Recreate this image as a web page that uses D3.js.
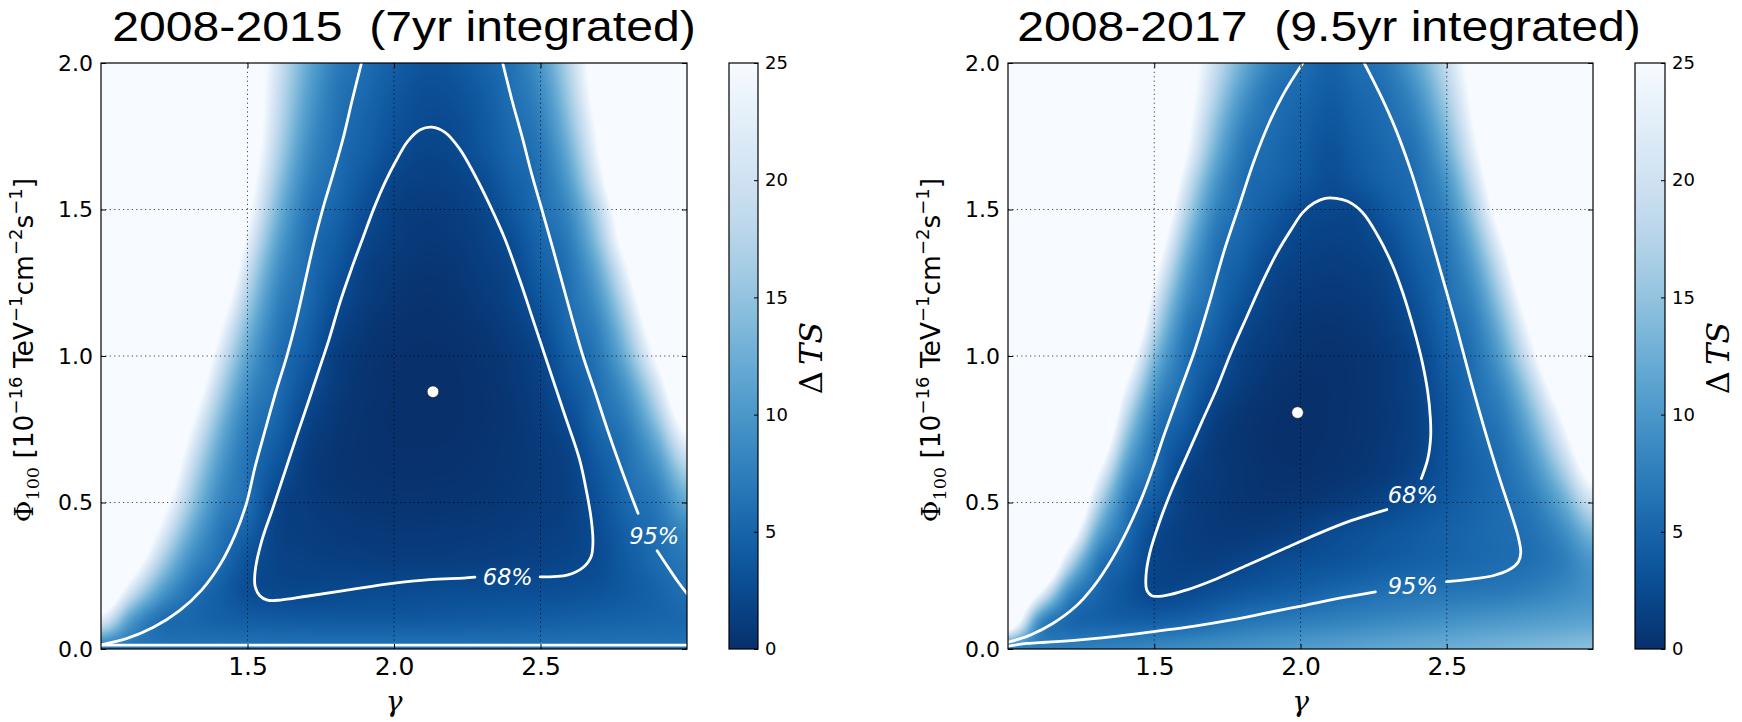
<!DOCTYPE html>
<html><head><meta charset="utf-8">
<script src="https://cdn.jsdelivr.net/npm/d3@7"></script>
<style>body{margin:0;background:#fff} svg{display:block}</style>
</head><body>
<svg id="chart" width="1742" height="722"></svg>
<script>
// ---------------- data ----------------
const titles = ["2008-2015  (7yr integrated)", "2008-2017  (9.5yr integrated)"];
const xTicks = [1.5, 2.0, 2.5];
const yTicks = [0.0, 0.5, 1.0, 1.5, 2.0];
const cbTicks = [0, 5, 10, 15, 20, 25];
const gammaGrid = [1.0,1.1,1.2,1.3,1.4,1.5,1.6,1.7,1.8,1.9,2.0,2.1,2.2,2.3,2.4,2.5,2.6,2.7,2.8,2.9,3.0];
const phiGrid = [0.0,0.1,0.2,0.3,0.4,0.5,0.6,0.7,0.8,0.9,1.0,1.1,1.2,1.3,1.4,1.5,1.6,1.7,1.8,1.9,2.0];

// Delta TS, rows = phiGrid, cols = gammaGrid  (2008-2015)
const tsLeft = [
[6.4,6.4,6.4,6.4,6.4,6.4,6.4,6.4,6.4,6.4,6.4,6.4,6.4,6.4,6.4,6.4,6.4,6.4,6.4,6.4,6.4],
[22.0,10.8,6.1,5.3,4.7,4.3,4.1,4.0,3.9,3.9,3.9,3.9,4.0,4.1,4.2,4.3,4.5,4.7,4.9,5.1,5.3],
[36.0,21.0,11.2,6.5,4.6,2.8,2.2,2.15,2.25,2.4,2.5,2.6,2.7,2.75,2.8,2.85,2.95,3.3,4.0,4.9,6.1],
[45,31.0,17.5,9.2,6.0,3.3,1.9,1.6,1.45,1.35,1.3,1.3,1.35,1.45,1.6,1.8,2.05,2.65,4.2,5.7,6.8],
[45,38.9,23.5,12.6,7.0,4.6,1.8,1.3,1.0,0.85,0.8,0.8,0.85,0.95,1.1,1.35,1.7,2.75,4.7,6.15,8.3],
[45,45,29.5,16.3,8.5,5.9,2.0,1.2,0.75,0.55,0.45,0.45,0.5,0.6,0.8,1.1,1.6,3.2,5.5,7.1,11.7],
[45,45,34.7,19.6,10.1,6.1,3.2,1.1,0.5,0.3,0.2,0.2,0.25,0.4,0.65,1.0,1.7,3.8,6.1,9.0,16.2],
[45,45,40.6,23.5,12.2,6.6,4.25,1.5,0.6,0.25,0.1,0.08,0.12,0.3,0.6,1.1,2.0,4.7,6.7,12.0,22.3],
[45,45,45,28.1,14.9,7.6,5.2,2.2,0.8,0.3,0.05,0.02,0.05,0.2,0.6,1.3,2.8,5.7,8.2,16.1,29.7],
[45,45,45,33.2,18.3,9.2,6.0,3.2,1.2,0.4,0.1,0.0,0.05,0.25,0.7,1.6,3.8,6.1,10.4,20.7,37.0],
[45,45,45,38.9,22.1,11.3,6.3,4.1,1.4,0.5,0.15,0.05,0.1,0.35,0.9,2.0,4.7,7.0,13.6,26.6,45],
[45,45,45,45,26.6,13.8,7.1,4.9,2.1,0.8,0.3,0.15,0.25,0.6,1.3,2.8,5.6,8.2,16.8,31.7,45],
[45,45,45,45,31.6,16.8,8.2,5.6,2.9,1.3,0.6,0.3,0.45,1.0,1.8,3.7,6.05,10.1,20.6,37.6,45],
[45,45,45,45,37.0,19.9,9.7,6.0,3.7,1.6,0.9,0.55,0.7,1.3,2.15,4.5,6.5,12.4,25.0,44,45],
[45,45,45,45,41.9,23.4,11.6,6.3,4.4,2.2,1.3,0.85,1.0,1.6,2.8,5.2,7.5,15.4,30.1,45,45],
[45,45,45,45,45,26.6,13.6,7.0,5.1,2.9,1.5,1.1,1.3,2.0,3.7,5.9,8.9,18.0,33.4,45,45],
[45,45,45,45,45,28.8,15.7,8.1,5.7,3.7,2.0,1.55,1.7,2.6,4.5,6.2,10.9,22.0,39.6,45,45],
[45,45,45,45,45,31.0,17.6,9.3,6.05,4.5,2.8,1.95,2.2,3.5,5.2,6.8,12.8,25.0,43.2,45,45],
[45,45,45,45,45,32.1,19.0,10.4,6.4,4.9,3.4,2.5,2.6,3.8,5.6,7.7,14.7,27.2,45,45,45],
[45,45,45,45,45,32.4,19.9,11.4,6.8,5.4,3.9,2.9,3.1,4.2,6.0,8.7,16.5,29.4,45,45,45],
[45,45,45,45,45,32.5,20.7,12.3,7.4,5.8,4.4,3.4,3.6,4.8,6.2,9.8,17.9,30.6,45,45,45]
];

// Delta TS, rows = phiGrid, cols = gammaGrid  (2008-2017)
const tsRight = [
[7.0,7.2,7.4,7.7,8.0,8.4,8.8,9.2,9.6,10.0,10.4,10.8,11.2,11.6,12.0,12.4,12.8,13.2,13.6,14.0,14.4],
[33.9,10.75,5.6,4.8,4.4,4.35,4.7,5.4,6.3,6.8,7.2,7.6,8.0,8.4,8.8,9.2,9.6,10.0,10.4,10.8,11.2],
[45,27.3,10.2,5.5,3.6,2.15,2.25,2.8,3.4,3.9,4.4,5.0,5.5,6.05,6.3,6.5,6.7,7.0,7.6,8.5,9.5],
[45,45,20.7,7.6,4.6,2.1,1.5,1.45,1.9,2.5,2.9,3.3,3.7,4.2,4.6,5.0,5.4,5.8,6.2,7.5,10.0],
[45,45,32.2,12.8,6.1,2.5,1.4,0.95,0.9,1.1,1.6,2.43,3.0,3.55,4.1,4.7,5.25,5.8,6.4,8.9,13.7],
[45,45,42.7,19.2,7.5,4.0,1.6,0.9,0.55,0.45,0.6,0.9,1.4,2.1,3.05,4.0,5.0,5.9,7.4,12.0,19.9],
[45,45,45,26.2,10.4,5.6,1.9,1.0,0.5,0.2,0.15,0.3,0.6,1.1,2.0,3.5,4.9,6.1,9.2,16.3,27.6],
[45,45,45,34.3,14.6,6.3,3.3,1.1,0.45,0.1,0.03,0.15,0.4,0.9,1.7,3.4,5.2,6.7,11.6,21.2,35.0],
[45,45,45,41.7,19.4,7.85,4.7,1.7,0.6,0.15,0.0,0.1,0.35,0.8,1.6,3.5,5.7,7.8,14.6,26.5,45],
[45,45,45,45,25.0,10.5,5.85,2.85,1.2,0.4,0.08,0.1,0.35,0.9,1.8,3.9,6.05,9.5,18.5,33.0,45],
[45,45,45,45,31.1,14.1,6.5,4.0,1.7,0.8,0.35,0.2,0.4,0.9,2.0,4.5,6.5,12.0,23.5,41,45],
[45,45,45,45,38.0,18.3,7.8,5.0,2.35,1.2,0.6,0.45,0.7,1.3,2.7,5.2,7.4,14.7,28.2,45,45],
[45,45,45,45,43.8,22.4,9.85,5.85,3.4,1.7,1.0,0.8,1.0,1.7,3.4,5.9,8.9,18.1,33.4,45,45],
[45,45,45,45,45,26.9,12.3,6.2,4.3,2.2,1.5,1.2,1.4,2.1,4.2,6.2,10.9,22.0,40,45,45],
[45,45,45,45,45,31.6,15.4,7.1,5.1,3.2,2.0,1.65,1.85,2.9,5.0,6.9,13.5,26.6,45,45,45],
[45,45,45,45,45,36.6,18.9,8.75,5.8,4.2,2.6,2.15,2.3,4.0,5.7,8.2,16.7,31.8,45,45,45],
[45,45,45,45,45,41.7,22.6,10.9,6.1,5.07,3.9,2.77,3.74,4.95,6.05,9.95,20.0,36.0,45,45,45],
[45,45,45,45,45,45,26.6,13.6,7.0,5.5,4.35,3.2,4.3,5.4,6.65,12.3,23.5,40.6,45,45,45],
[45,45,45,45,45,45,28.7,15.9,8.35,5.95,4.82,3.7,4.77,5.85,7.85,14.6,26.4,45,45,45,45],
[45,45,45,45,45,45,30.3,18.3,10.3,6.4,5.4,4.2,5.3,6.2,9.5,16.9,28.2,45,45,45,45],
[45,45,45,45,45,45,30.7,20.1,12.4,7.7,6.0,4.75,5.9,7.1,11.4,18.9,29.7,45,45,45,45]
];

// contour lines [gamma, phi]
const left68 = [[2.499,0.246],[2.594,0.253],[2.645,0.278],[2.673,0.316],[2.679,0.367],[2.673,0.444],[2.658,0.533],[2.633,0.648],[2.582,0.801],[2.531,0.954],[2.480,1.107],[2.429,1.260],[2.378,1.401],[2.327,1.515],[2.276,1.617],[2.224,1.707],[2.173,1.764],[2.129,1.781],[2.091,1.773],[2.046,1.732],[2.008,1.668],[1.969,1.592],[1.931,1.503],[1.893,1.401],[1.855,1.298],[1.816,1.184],[1.778,1.056],[1.740,0.941],[1.702,0.827],[1.663,0.712],[1.625,0.597],[1.587,0.482],[1.548,0.367],[1.526,0.265],[1.526,0.214],[1.542,0.182],[1.568,0.167],[1.612,0.167],[1.702,0.180],[1.829,0.199],[1.995,0.224],[2.122,0.237],[2.237,0.242],[2.276,0.245]];
const left95a = [[1.889,2.0],[1.857,1.872],[1.827,1.745],[1.791,1.617],[1.756,1.499],[1.724,1.375],[1.695,1.247],[1.666,1.120],[1.634,0.999],[1.597,0.878],[1.561,0.750],[1.526,0.622],[1.497,0.499],[1.459,0.393],[1.408,0.291],[1.344,0.202],[1.268,0.131],[1.179,0.074],[1.089,0.036],[1.0,0.014]];
const left95b = [[2.371,2.0],[2.403,1.872],[2.438,1.745],[2.471,1.617],[2.505,1.499],[2.540,1.375],[2.575,1.247],[2.610,1.120],[2.645,0.999],[2.686,0.878],[2.728,0.750],[2.773,0.622],[2.811,0.520],[2.833,0.463]];
const left95c = [[2.898,0.335],[2.932,0.284],[2.971,0.227],[3.0,0.189]];
const left95d = [[1.0,0.013],[3.0,0.013]];

const right68 = [[2.413,0.582],[2.435,0.648],[2.445,0.724],[2.444,0.788],[2.435,0.878],[2.416,0.980],[2.390,1.082],[2.352,1.209],[2.314,1.311],[2.263,1.413],[2.212,1.490],[2.161,1.528],[2.122,1.538],[2.084,1.538],[2.046,1.522],[2.008,1.490],[1.969,1.433],[1.918,1.349],[1.867,1.247],[1.816,1.133],[1.765,1.018],[1.714,0.890],[1.663,0.776],[1.612,0.661],[1.561,0.546],[1.517,0.431],[1.485,0.329],[1.472,0.253],[1.474,0.202],[1.491,0.182],[1.536,0.182],[1.612,0.202],[1.714,0.240],[1.829,0.291],[1.944,0.342],[2.059,0.393],[2.173,0.438],[2.295,0.476]];
const right95a = [[2.008,2.0],[1.944,1.898],[1.893,1.796],[1.842,1.668],[1.791,1.515],[1.740,1.362],[1.689,1.184],[1.638,1.018],[1.587,0.878],[1.536,0.737],[1.497,0.622],[1.459,0.520],[1.408,0.406],[1.357,0.310],[1.293,0.214],[1.230,0.144],[1.153,0.087],[1.077,0.048],[1.0,0.023]];
const right95b = [[2.218,2.0],[2.276,1.885],[2.327,1.770],[2.378,1.630],[2.429,1.464],[2.480,1.286],[2.531,1.107],[2.582,0.916],[2.633,0.737],[2.684,0.571],[2.722,0.457],[2.745,0.380],[2.753,0.329],[2.745,0.298],[2.716,0.272],[2.658,0.250],[2.569,0.237],[2.499,0.230]];
const right95c = [[2.256,0.195],[2.148,0.176],[2.020,0.150],[1.893,0.125],[1.765,0.099],[1.638,0.078],[1.510,0.061],[1.383,0.045],[1.255,0.032],[1.179,0.026],[1.128,0.023],[1.064,0.019],[1.0,0.010]];

const leftLabels = [{t:"68%", g:2.388, p:0.246}, {t:"95%", g:2.888, p:0.387}];
const rightLabels = [{t:"68%", g:2.384, p:0.527}, {t:"95%", g:2.384, p:0.217}];
const leftBest = [2.133, 0.878];
const rightBest = [1.990, 0.807];

// ---------------- drawing ----------------
const svg = d3.select("#chart");
const color = d3.scaleSequential(t => d3.interpolateBlues(1 - t)).domain([0, 25]).clamp(true);
const cr = (p0,p1,p2,p3,t) => 0.5*(2*p1 + (-p0+p2)*t + (2*p0-5*p1+4*p2-p3)*t*t + (-p0+3*p1-3*p2+p3)*t*t*t);
const gIdx = d3.scaleLinear().domain(d3.extent(gammaGrid)).range([0, gammaGrid.length-1]);
const pIdx = d3.scaleLinear().domain(d3.extent(phiGrid)).range([0, phiGrid.length-1]);

function sample(grid, gi, pj) {
  const nR = grid.length, nC = grid[0].length;
  const ci = Math.min(Math.floor(gi), nC-2), ri = Math.min(Math.floor(pj), nR-2);
  const tx = gi - ci, ty = pj - ri;
  const get = (r,c) => grid[Math.max(0,Math.min(nR-1,r))][Math.max(0,Math.min(nC-1,c))];
  const v = [];
  for (let m=-1; m<=2; m++) v.push(cr(get(ri+m,ci-1),get(ri+m,ci),get(ri+m,ci+1),get(ri+m,ci+2),tx));
  return cr(v[0],v[1],v[2],v[3],ty);
}

const panels = [
  {x0:101, x1:687, cb0:729, cb1:758, title:titles[0], tx:404, grid:tsLeft,
   lines:[left68,left95a,left95b,left95c,left95d], labels:leftLabels, best:leftBest},
  {x0:1008, x1:1593, cb0:1635, cb1:1665, title:titles[1], tx:1329, grid:tsRight,
   lines:[right68,right95a,right95b,right95c], labels:rightLabels, best:rightBest}
];
const Y0 = 63, Y1 = 649;

panels.forEach((P, k) => {
  const x = d3.scaleLinear().domain([1, 3]).range([P.x0, P.x1]);
  const y = d3.scaleLinear().domain([0, 2]).range([Y1, Y0]);
  const W = Math.round(P.x1 - P.x0), H = Y1 - Y0;
  const g = svg.append("g");

  // heatmap
  const cv = document.createElement("canvas");
  cv.width = W; cv.height = H;
  const ctx = cv.getContext("2d");
  const img = ctx.createImageData(W, H);
  for (let j = 0; j < H; j++) {
    const pj = pIdx(y.invert(Y0 + j + 0.5));
    for (let i = 0; i < W; i++) {
      const gi = gIdx(x.invert(P.x0 + i + 0.5));
      const c = d3.rgb(color(sample(P.grid, gi, pj)));
      const o = 4*(j*W + i);
      img.data[o] = c.r; img.data[o+1] = c.g; img.data[o+2] = c.b; img.data[o+3] = 255;
    }
  }
  ctx.putImageData(img, 0, 0);
  g.append("image").attr("x", P.x0).attr("y", Y0).attr("width", W).attr("height", H)
    .attr("preserveAspectRatio", "none").attr("href", cv.toDataURL());

  // grid
  g.append("g").selectAll("line").data(xTicks).join("line")
    .attr("x1", d => x(d)).attr("x2", d => x(d)).attr("y1", Y0).attr("y2", Y1)
    .attr("stroke", "#000").attr("stroke-width", 0.9).attr("stroke-dasharray", "1.2,3.2").attr("opacity", 0.8);
  g.append("g").selectAll("line").data(yTicks.filter(d => d > 0 && d < 2)).join("line")
    .attr("y1", d => y(d)).attr("y2", d => y(d)).attr("x1", P.x0).attr("x2", P.x1)
    .attr("stroke", "#000").attr("stroke-width", 0.9).attr("stroke-dasharray", "1.2,3.2").attr("opacity", 0.8);

  // contours
  const line = d3.line().x(d => x(d[0])).y(d => y(d[1])).curve(d3.curveCatmullRom.alpha(0.5));
  const clipId = "clip" + k;
  svg.append("clipPath").attr("id", clipId).append("rect")
    .attr("x", P.x0).attr("y", Y0).attr("width", W).attr("height", H);
  g.append("g").attr("clip-path", `url(#${clipId})`).selectAll("path").data(P.lines).join("path")
    .attr("d", line).attr("fill", "none").attr("stroke", "#fff").attr("stroke-width", 2.8)
    .attr("stroke-linejoin", "round").attr("stroke-linecap", "round");

  g.selectAll("text.cl").data(P.labels).join("text").attr("class", "cl")
    .attr("x", d => x(d.g)).attr("y", d => y(d.p)).attr("dy", "0.36em")
    .attr("text-anchor", "middle").attr("fill", "#fff")
    .attr("font-family", "DejaVu Sans").attr("font-style", "oblique").attr("font-size", 22.5)
    .text(d => d.t);

  g.append("circle").attr("cx", x(P.best[0])).attr("cy", y(P.best[1])).attr("r", 5.8)
    .attr("fill", "#fff").attr("stroke", "#222").attr("stroke-width", 0.6);

  // axes
  const ax = g.append("g").attr("transform", `translate(0,${Y1})`)
    .call(d3.axisBottom(x).tickValues(xTicks).tickSize(-5).tickPadding(8).tickFormat(d3.format(".1f")));
  ax.select(".domain").remove();
  ax.selectAll("text").attr("font-family", "DejaVu Sans").attr("font-size", 25).attr("fill", "#000");
  const axT = g.append("g").attr("transform", `translate(0,${Y0})`)
    .call(d3.axisTop(x).tickValues(xTicks).tickSize(-5).tickFormat(""));
  axT.select(".domain").remove();

  const ay = g.append("g").attr("transform", `translate(${P.x0},0)`)
    .call(d3.axisLeft(y).tickValues(yTicks).tickSize(-5).tickPadding(8).tickFormat(d3.format(".1f")));
  ay.select(".domain").remove();
  ay.selectAll("text").attr("font-family", "DejaVu Sans").attr("font-size", 22).attr("fill", "#000");
  const ayR = g.append("g").attr("transform", `translate(${P.x1},0)`)
    .call(d3.axisRight(y).tickValues(yTicks).tickSize(-5).tickFormat(""));
  ayR.select(".domain").remove();

  g.append("rect").attr("x", P.x0).attr("y", Y0).attr("width", W).attr("height", H)
    .attr("fill", "none").attr("stroke", "#000").attr("stroke-width", 1.2);

  // title
  g.append("text").attr("transform", `translate(${P.tx},41) scale(1.12,1)`)
    .attr("text-anchor", "middle").attr("font-family", "Liberation Sans, Arial")
    .style("white-space", "pre").attr("xml:space", "preserve")
    .attr("font-size", 43).attr("fill", "#000").text(P.title);

  // x label
  g.append("text").attr("x", (P.x0 + P.x1)/2).attr("y", 711).attr("text-anchor", "middle")
    .attr("font-family", "DejaVu Serif").attr("font-style", "italic").attr("font-size", 28).text("γ");

  // y label
  const yl = g.append("text").attr("transform", `translate(${P.x0 - 68},350) rotate(-90)`)
    .attr("text-anchor", "middle").attr("font-family", "DejaVu Sans").attr("font-size", 26.5).attr("fill", "#000");
  yl.append("tspan").attr("font-family", "DejaVu Serif").text("Φ");
  yl.append("tspan").attr("font-family", "DejaVu Serif").attr("font-size", 17.5).attr("dy", 6).text("100");
  yl.append("tspan").attr("dy", -6).text(" [10");
  const sup = (s) => { yl.append("tspan").attr("font-size", 18).attr("dy", -11).text(s); };
  const base = (s) => { yl.append("tspan").attr("dy", 11).text(s); };
  sup("−16"); base(" TeV"); sup("−1"); base("cm"); sup("−2"); base("s"); sup("−1"); base("]");

  // colorbar
  const cb = d3.scaleLinear().domain([0, 25]).range([Y1, Y0]);
  const gradId = "grad" + k;
  const grad = svg.append("defs").append("linearGradient").attr("id", gradId)
    .attr("x1", 0).attr("y1", 1).attr("x2", 0).attr("y2", 0);
  grad.selectAll("stop").data(d3.range(0, 25.01, 0.5)).join("stop")
    .attr("offset", d => d / 25).attr("stop-color", d => color(d));
  g.append("rect").attr("x", P.cb0).attr("y", Y0).attr("width", P.cb1 - P.cb0).attr("height", H)
    .attr("fill", `url(#${gradId})`).attr("stroke", "#000").attr("stroke-width", 1.2);
  const ac = g.append("g").attr("transform", `translate(${P.cb1},0)`)
    .call(d3.axisRight(cb).tickValues(cbTicks).tickSize(-4).tickPadding(7));
  ac.select(".domain").remove();
  ac.selectAll("text").attr("font-family", "DejaVu Sans").attr("font-size", 18).attr("fill", "#000");

  const cl = g.append("text").attr("transform", `translate(${P.cb1 + 53},358) rotate(-90)`)
    .attr("text-anchor", "middle").attr("dy", "0.35em").attr("font-family", "DejaVu Serif").attr("font-size", 32);
  cl.append("tspan").text("Δ");
  cl.append("tspan").attr("font-style", "italic").attr("dx", 6).text("TS");
});
</script>
</body></html>
